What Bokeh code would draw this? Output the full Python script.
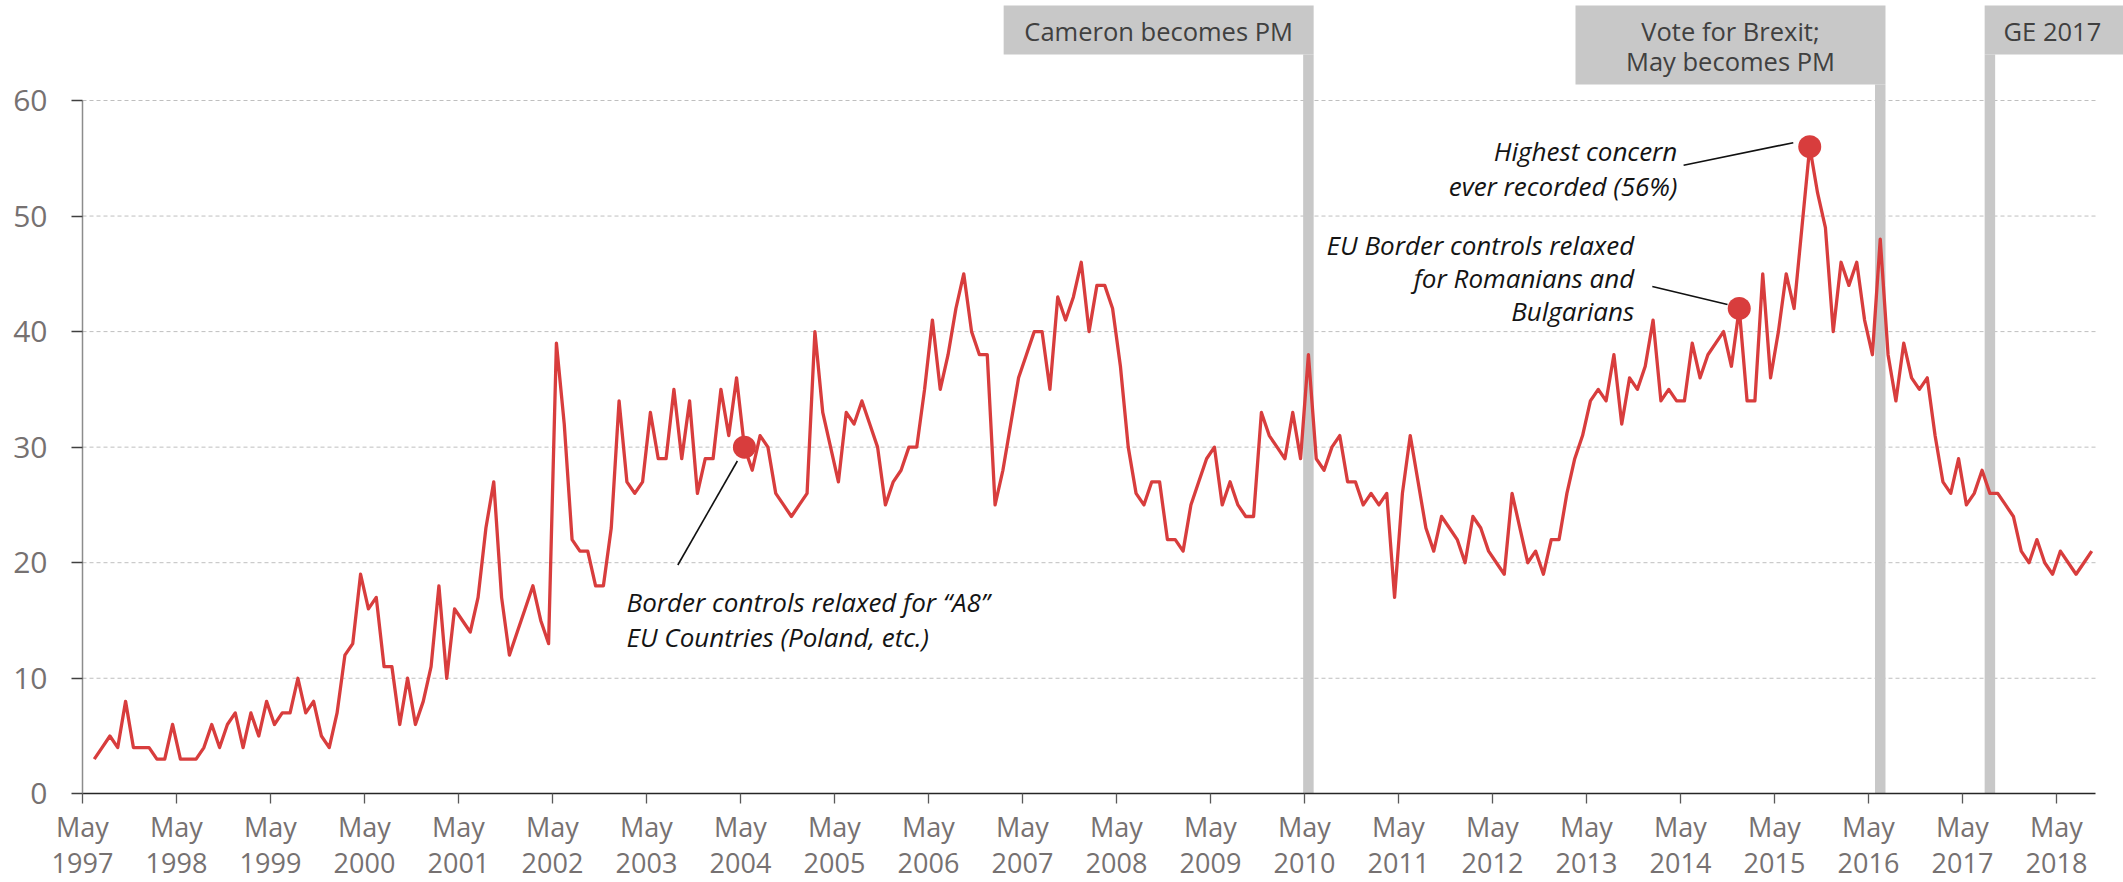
from bokeh.plotting import figure
from bokeh.models import Range1d, FixedTicker
from bokeh.core.properties import value
from bokeh.embed import file_html
from bokeh.resources import INLINE

# ---------------- data ----------------
# Share naming immigration as an important issue (%), monthly, June 1997 .. Sept 2018
concern = [
    3, 4, 5, 4, 8, 4, 4, 4, 3, 3, 6, 3, 3, 3, 4, 6, 4, 6, 7, 4, 7, 5, 8, 6, 7, 7, 10, 7, 8, 5, 4, 7, 12, 13, 19, 16, 17, 11, 11, 6, 10, 6, 8, 11, 18,
    10, 16, 15, 14, 17, 23, 27, 17, 12, 14, 16, 18, 15, 13, 39, 32, 22, 21, 21, 18, 18, 23, 34, 27, 26, 27, 33, 29, 29, 35, 29, 34, 26, 29, 29, 35, 31, 36, 30, 28, 31, 30, 26, 25, 24, 25,
    26, 40, 33, 30, 27, 33, 32, 34, 32, 30, 25, 27, 28, 30, 30, 35, 41, 35, 38, 42, 45, 40, 38, 38, 25, 28, 32, 36, 38, 40, 40, 35, 43, 41, 43, 46, 40, 44, 44, 42, 37, 30, 26, 25, 27, 27,
    22, 22, 21, 25, 27, 29, 30, 25, 27, 25, 24, 24, 33, 31, 30, 29, 33, 29, 38, 29, 28, 30, 31, 27, 27, 25, 26, 25, 26, 17, 26, 31, 27, 23, 21, 24, 23, 22, 20, 24, 23, 21, 20, 19, 26, 23,
    20, 21, 19, 22, 22, 26, 29, 31, 34, 35, 34, 38, 32, 36, 35, 37, 41, 34, 35, 34, 34, 39, 36, 38, 39, 40, 37, 42, 34, 34, 45, 36, 40, 45, 42, 49, 56, 52, 49, 40, 46, 44, 46,
    41, 38, 48, 38, 34, 39, 36, 35, 36, 31, 27, 26, 29, 25, 26, 28, 26, 26, 25, 24, 21, 20, 22, 20, 19, 21, 20, 19, 20, 21,
]
# month offset from May 1997 (1 = June 1997)
months = list(range(1, len(concern) + 1))

tick_months = list(range(0, 253, 12))
tick_labels = [f"May\n{1997 + k}" for k in range(len(tick_months))]
y_ticks = [0, 10, 20, 30, 40, 50, 60]
axis_end_month = 257

highlight_months = [84, 211, 220]
highlight_values = [30, 42, 56]
highlight_texts = [
    "Border controls relaxed for \u201cA8\u201d\nEU Countries (Poland, etc.)",
    "EU Border controls relaxed\nfor Romanians and\nBulgarians",
    "Highest concern\never recorded (56%)",
]

event_months = [156, 229, 243]
event_labels = ["Cameron becomes PM", "Vote for Brexit;\nMay becomes PM", "GE 2017"]

# ---------------- geometry ----------------
PXM = 7.8333      # px per month
PXU = 11.555      # px per percentage point
W, H = 2123, 882
X0_PX = 82        # x=0 (May 1997) position from left of figure
Y0_PX = 793.3     # y=0 position from top of figure

x_start = -X0_PX / PXM
x_end = x_start + W / PXM
y_top = Y0_PX / PXU
y_bot = -(H - Y0_PX) / PXU

FONT = "Open Sans"
RED = "#D83D3D"
GREY = "#C8C8C8"
ANN_SIZE = "26px"

p = figure(width=W, height=H, output_backend="svg", toolbar_location=None,
           x_range=Range1d(x_start, x_end), y_range=Range1d(y_bot, y_top),
           min_border_left=0, min_border_right=0, min_border_top=0, min_border_bottom=0)
p.outline_line_color = None
p.background_fill_color = "white"
p.border_fill_color = "white"
p.xgrid.visible = False
p.ygrid.visible = False

# x axis at y = 0
xa = p.xaxis[0]
xa.fixed_location = 0
xa.bounds = (0, axis_end_month)
xa.ticker = FixedTicker(ticks=tick_months)
xa.major_label_overrides = {m: lab for m, lab in zip(tick_months, tick_labels)}
xa.minor_tick_line_color = None
xa.major_tick_out = 10
xa.major_tick_in = 0
xa.axis_line_color = "#262626"
xa.axis_line_width = 1.3
xa.major_tick_line_color = "#595959"
xa.major_tick_line_width = 1.3
xa.major_label_text_font = FONT
xa.major_label_text_font_size = "27px"
xa.major_label_text_color = "#767171"
xa.major_label_standoff = 4
xa.major_label_text_line_height = 0.97

# y axis at x = 0
ya = p.yaxis[0]
ya.fixed_location = 0
ya.bounds = (0, 60)
ya.ticker = FixedTicker(ticks=y_ticks)
ya.minor_tick_line_color = None
ya.major_tick_out = 11
ya.major_tick_in = 0
ya.axis_line_color = "#8C8C8C"
ya.axis_line_width = 1.5
ya.major_tick_line_color = "#404040"
ya.major_tick_line_width = 1.3
ya.major_label_text_font = FONT
ya.major_label_text_font_size = "30px"
ya.major_label_text_color = "#767171"
ya.major_label_standoff = 24

# dashed gridlines
gy = y_ticks[1:]
p.segment(x0=[0] * len(gy), x1=[axis_end_month] * len(gy), y0=gy, y1=gy,
          line_color="#BFBFBF", line_width=1, line_dash="4 3")

# event bars and header boxes
bar_w = 10.5 / PXM
box_w = 310 / PXM
box_top = y_top - 5 / PXU
ex = [m + 0.5 for m in event_months]
box_bottoms = [y_top - 54 / PXU, y_top - 84 / PXU, y_top - 54 / PXU]
p.vbar(x=ex, width=bar_w, bottom=0, top=box_bottoms, fill_color=GREY, line_color=None)
lefts = [ex[0] + bar_w / 2 - box_w, ex[1] + bar_w / 2 - box_w, ex[2] - bar_w / 2]
rights = [ex[0] + bar_w / 2, ex[1] + bar_w / 2, x_end + 5]
p.quad(left=lefts, right=rights, bottom=box_bottoms, top=[box_top] * 3,
       fill_color=GREY, line_color=None)
label_x = [(lefts[0] + rights[0]) / 2, (lefts[1] + rights[1]) / 2, ex[2] + 62.5 / PXM]
label_y = [(b + box_top) / 2 - 1 / PXU for b in box_bottoms]
p.text(x=label_x, y=label_y, text=event_labels, text_font=value(FONT), text_font_size="25.5px",
       text_color="#404040", text_align="center", text_baseline="middle", text_line_height=0.91)

# main series
xs = [m + 0.5 for m in months]
p.line(xs, concern, line_color=RED, line_width=3.3, line_join="round")

# highlighted points
hx = [m + 0.5 for m in highlight_months]
p.scatter(hx, highlight_values, size=23, fill_color=RED, line_color=None)

# leader lines (text -> point)
p.segment(x0=[hx[0] - 8.5, hx[1] - 11.1, hx[2] - 16.1],
          y0=[highlight_values[0] - 10.2, highlight_values[1] + 1.9, highlight_values[2] - 1.6],
          x1=[hx[0] - 0.9, hx[1] - 1.5, hx[2] - 2.1],
          y1=[highlight_values[0] - 1.2, highlight_values[1] + 0.35, highlight_values[2] + 0.35],
          line_color="#111111", line_width=1.6)

# annotation texts
p.text(x=[hx[0] - 15.05], y=[15.1], text=[highlight_texts[0]], text_font=value(FONT),
       text_font_style="italic", text_font_size=ANN_SIZE, text_color="#141414",
       text_align="left", text_baseline="middle", text_line_height=0.98)
p.text(x=[hx[1] - 13.4], y=[44.63], text=[highlight_texts[1]], text_font=value(FONT),
       text_font_style="italic", text_font_size=ANN_SIZE, text_color="#141414",
       text_align="right", text_baseline="middle", text_line_height=0.91)
p.text(x=[hx[2] - 16.9], y=[54.1], text=[highlight_texts[2]], text_font=value(FONT),
       text_font_style="italic", text_font_size=ANN_SIZE, text_color="#141414",
       text_align="right", text_baseline="middle", text_line_height=0.99)

open("out.html", "w").write(file_html(p, INLINE))
